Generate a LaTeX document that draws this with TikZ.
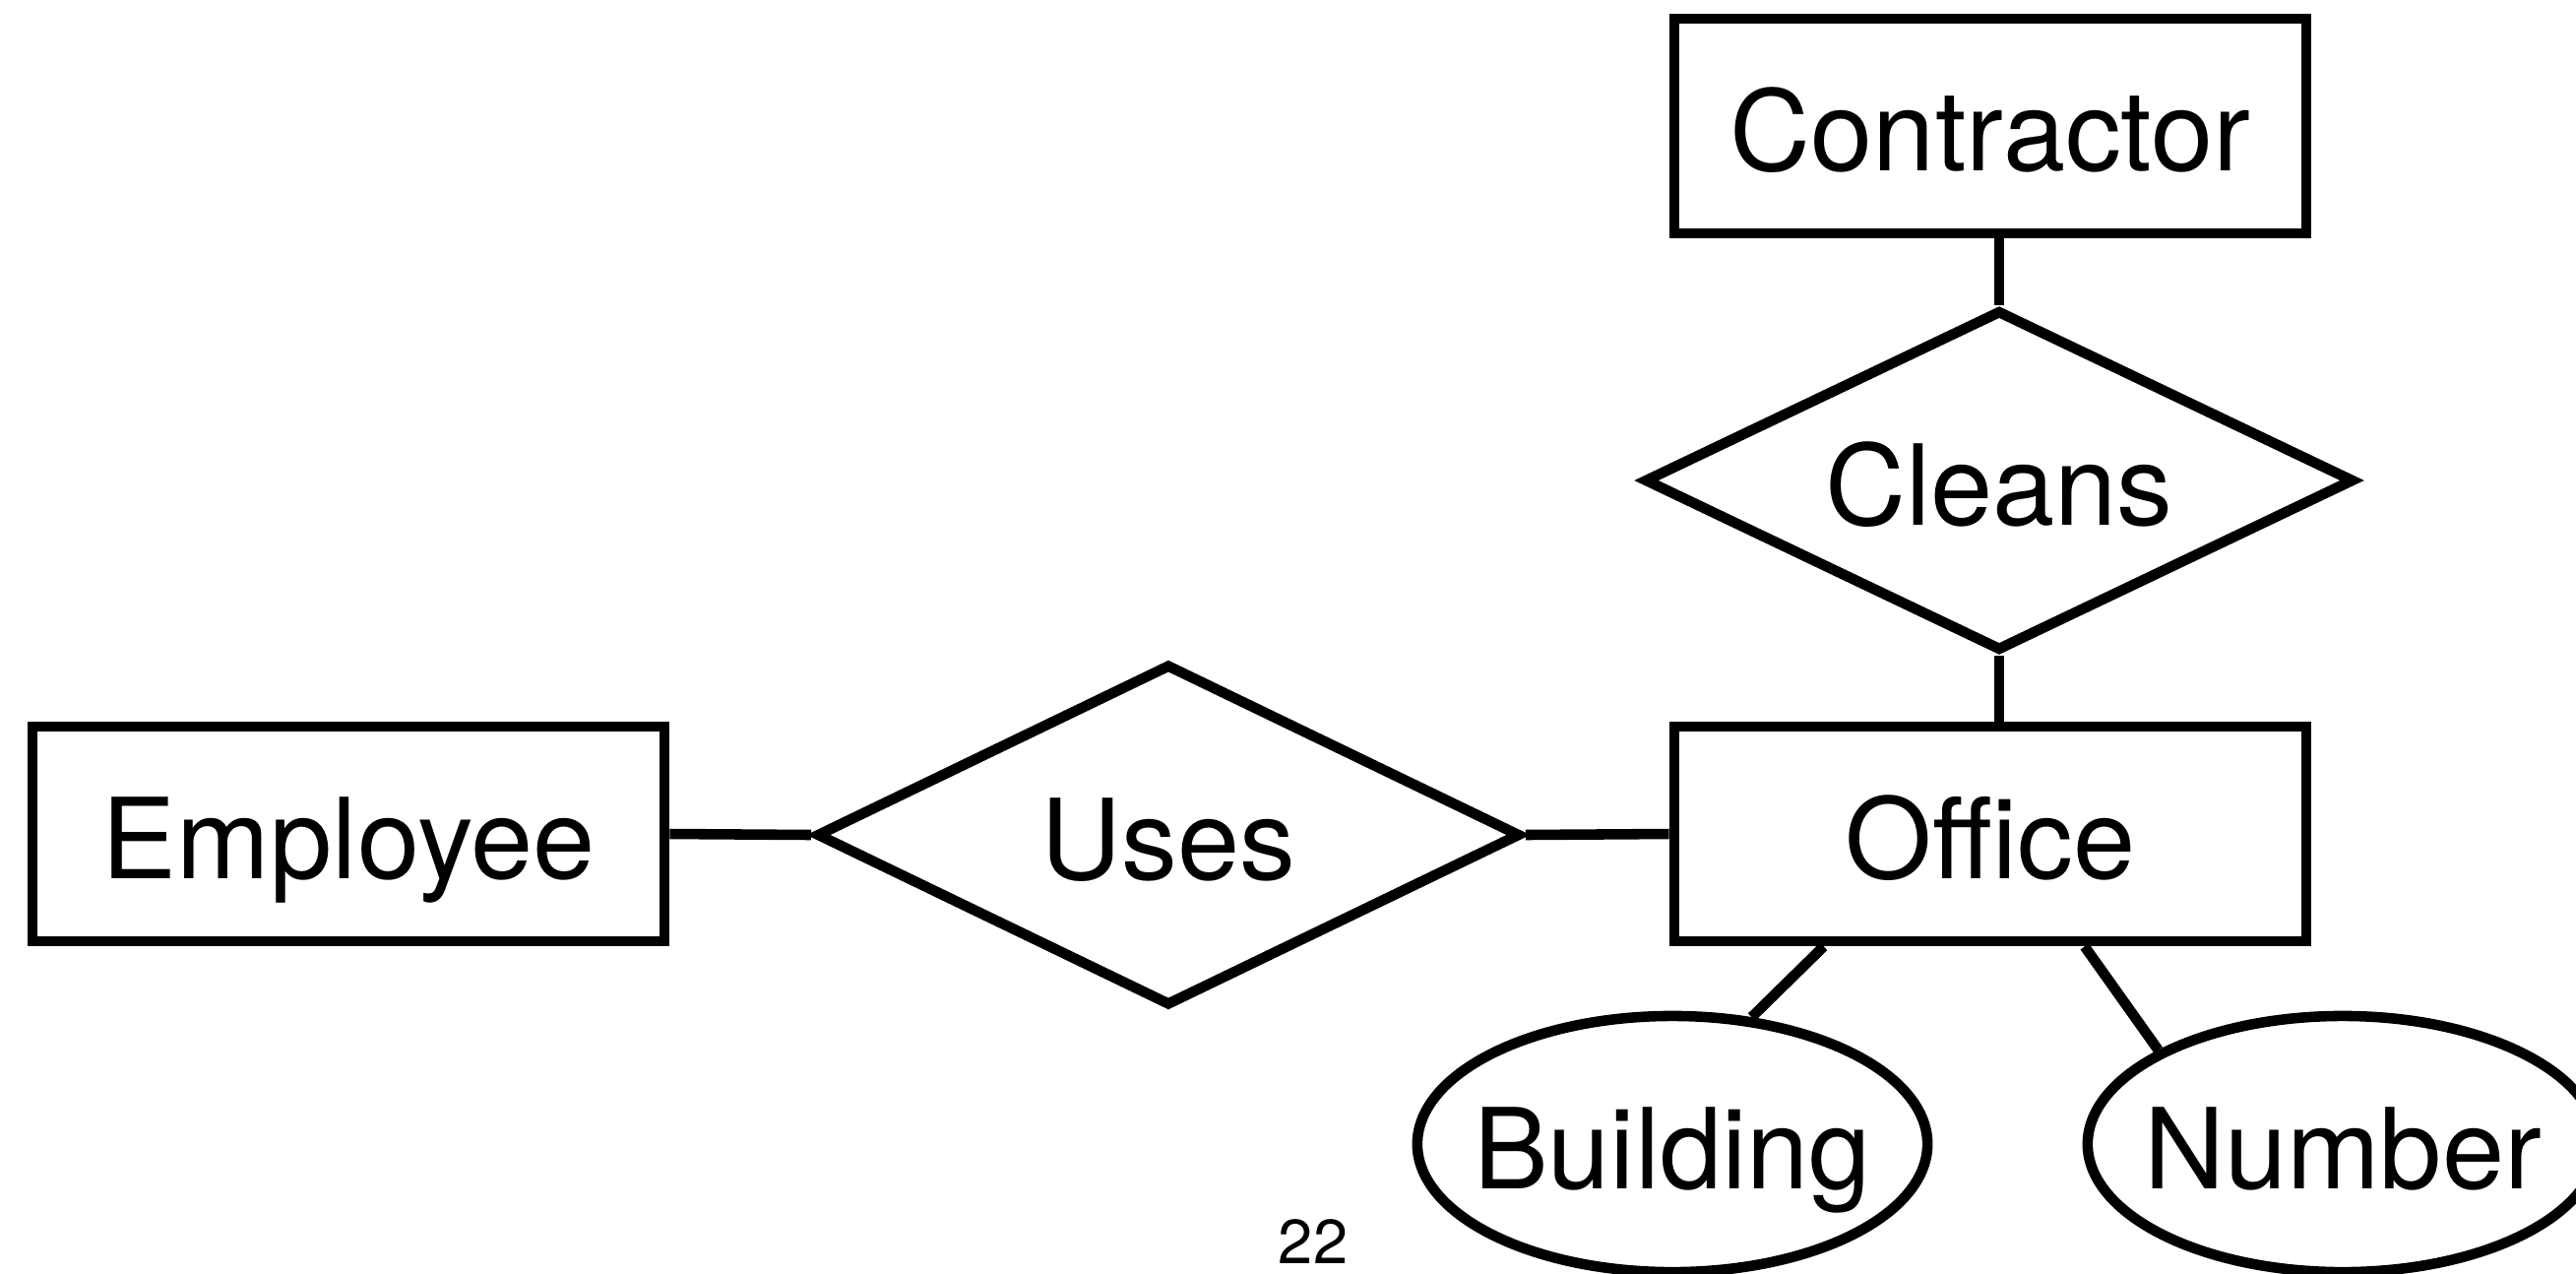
\documentclass[tikz,border=0pt]{standalone}
\usepackage{fontspec}
\setmainfont{TeX Gyre Heros}
\usetikzlibrary{shapes.geometric}
\begin{document}
\begin{tikzpicture}[x=0.01cm,y=-0.01cm,
  line width=3pt,
  every node/.style={font=\fontsize{32.3}{38}\selectfont, inner sep=0pt,
    text height=26.7pt, text depth=0.7pt},
  entity/.style={draw, rectangle, minimum width=6.42cm, minimum height=2.18cm},
  relation/.style={draw, diamond, inner sep=0pt, minimum width=7.15cm, minimum height=3.47cm},
  attribute/.style={draw, ellipse, minimum width=5.18cm, minimum height=2.6cm}]
  \useasboundingbox (0,0) rectangle (2617,1293);
  \clip (0,0) rectangle (2617,1293);
  \fill[white] (0,0) rectangle (2617,1293);

  % entities
  \node[entity] (employee)   at (354,847)  {Employee};
  \node[entity] (office)     at (2022,847) {Office};
  \node[entity] (contractor) at (2022,128) {Contractor};

  % relationships and attributes: labels kept out of the shape's size
  \node[relation] (uses)   at (1187,848) {\makebox[0pt]{Uses}};
  \node[relation, minimum width=7.21cm, minimum height=3.46cm]
    (cleans) at (2031,488) {\makebox[0pt]{Cleans}};

  \node[attribute] (building) at (1699,1162) {\makebox[0pt]{Building}};
  \node[attribute] (number)   at (2380,1162) {\makebox[0pt]{Number}};

  % connectors
  \draw (employee.east) -- (uses.west);
  \draw (uses.east) -- (office.west);
  \draw (cleans.north) -- (cleans.north |- contractor.south);
  \draw (cleans.south) -- (cleans.south |- office.north);
  \coordinate (ob1) at ([xshift=1.57cm]office.south west);
  \coordinate (ob2) at ([xshift=4.22cm]office.south west);
  \draw (ob1) -- (building.58.8);
  \draw (ob2) -- (number.153);

  % page number
  \node[font=\fontsize{18}{22}\selectfont, text height=12.8pt, text depth=0pt]
    (page) at (1334,1261) {22};
\end{tikzpicture}
\end{document}
